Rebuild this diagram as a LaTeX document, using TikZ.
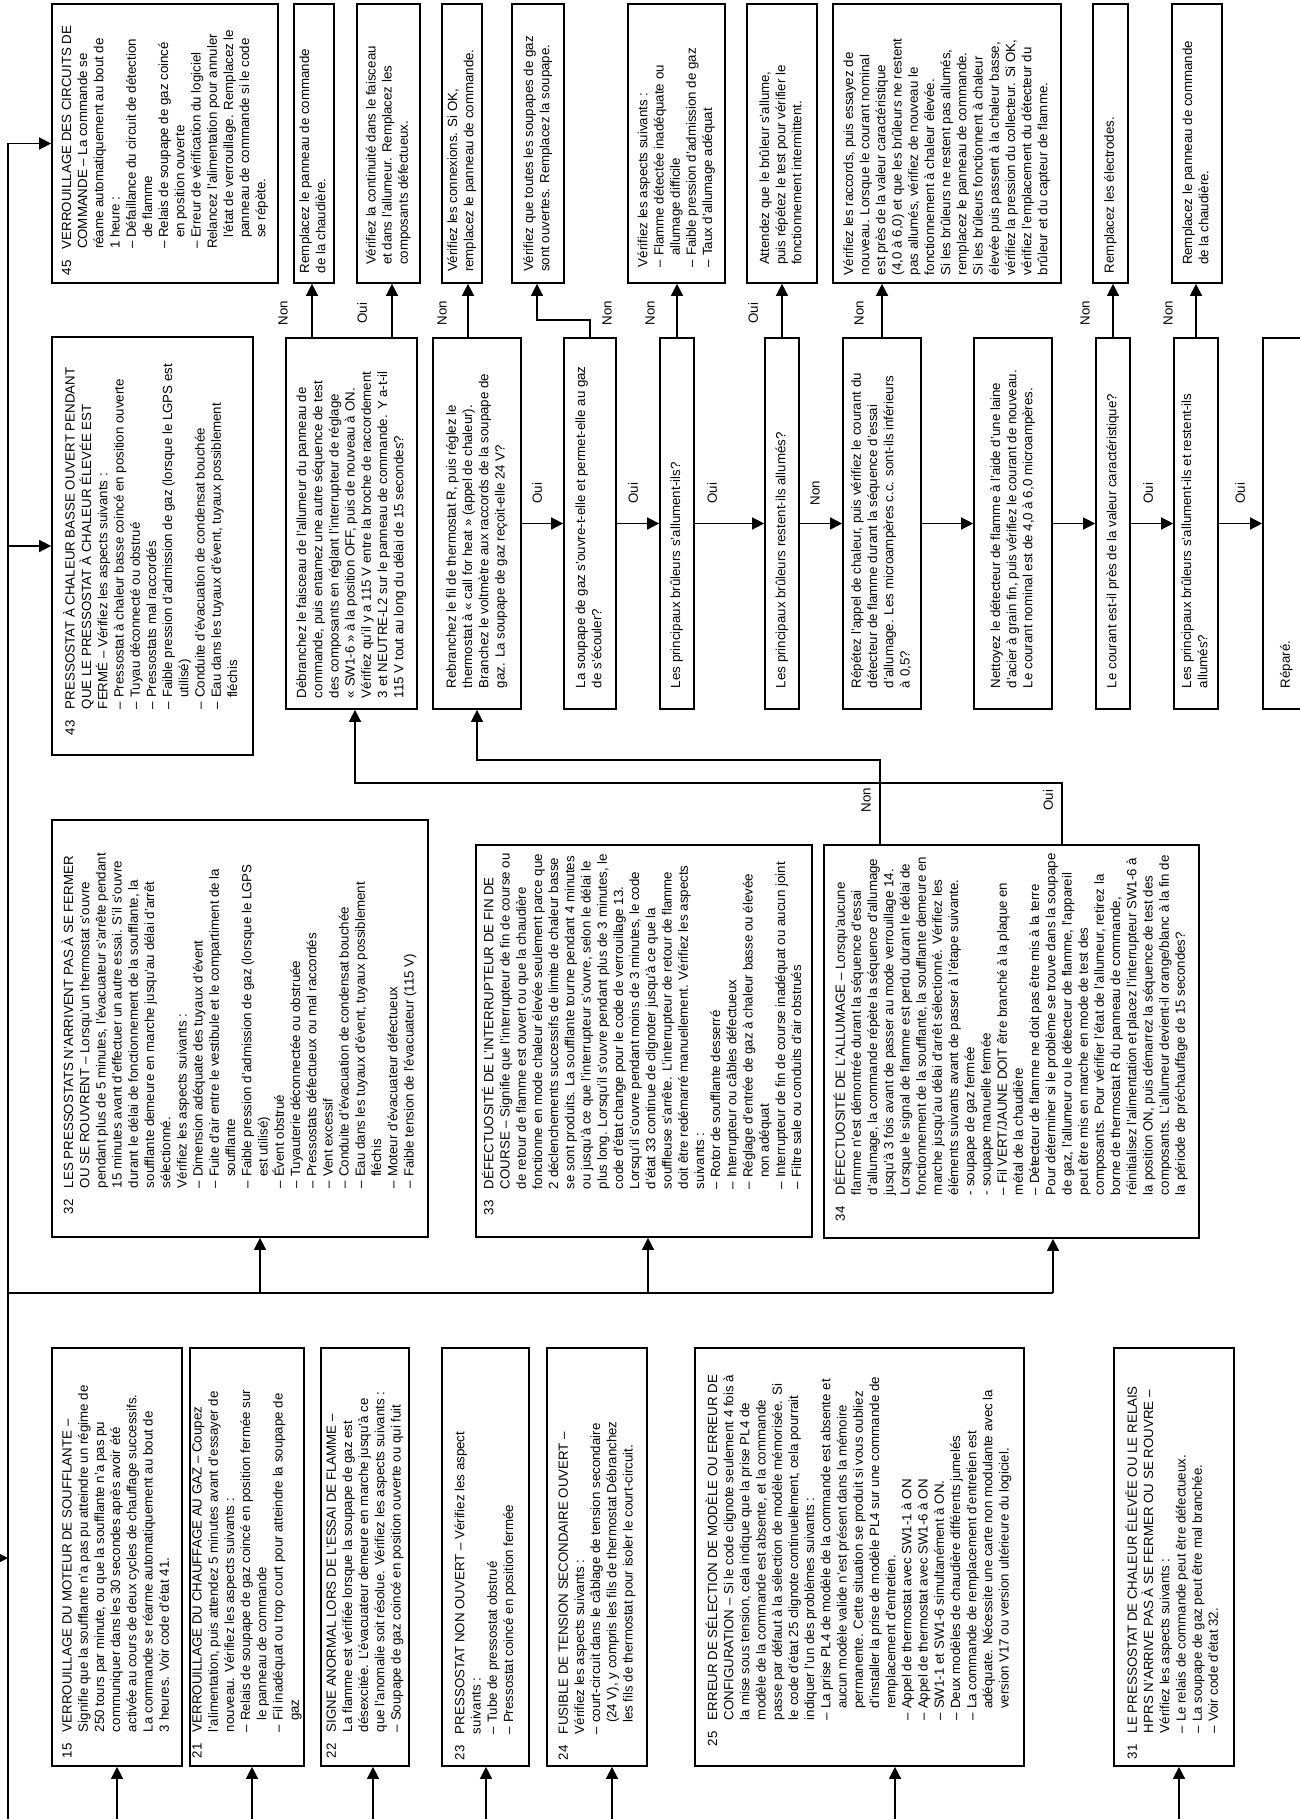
\documentclass[tikz,border=0pt]{standalone}
\usepackage{fontspec}
\setmainfont{Liberation Sans}
\usetikzlibrary{arrows.meta,calc}
\newlength\numw \setlength\numw{26pt}
\newcommand\nm[1]{\makebox[\numw][l]{#1}}
\newcommand\ii{\hspace*{\numw}}
\newcommand\dd{\hspace*{\numw}\phantom{– }}
\newcommand\dc{\phantom{– }}
\newcommand\bt[2]{\makebox[#1][l]{\begin{tabular}{@{}l@{}}#2\end{tabular}}}
\newcommand\fs{\fontsize{13.3}{16.2}\selectfont}
\tikzset{
  bx/.style={draw, line width=1.7pt, rotate=90, inner ysep=0pt, font=\fs},
  ln/.style={line width=1.5pt},
  arr/.style={ln, -{Triangle[length=12pt,width=12pt]}},
  lbl/.style={rotate=90, font=\fs, inner sep=0pt}
}
\begin{document}
\begin{tikzpicture}[x=1pt,y=-1pt]
\fill[white] (0,0) rectangle (1299,1819);
\useasboundingbox (0,0) rectangle (1299,1819);

% ---------- top row ----------
\node[bx, inner xsep=8pt, minimum height=226pt] (b45) at (165,143.5) {\bt{263pt}{%
\nm{45}VERROUILLAGE DES CIRCUITS DE\\
\ii COMMANDE – La commande se\\
\ii réame automatiquement au bout de\\
\ii 1 heure :\\
\ii – Défaillance du circuit de détection\\
\dd de flamme\\
\ii – Relais de soupape de gaz coincé\\
\dd en position ouverte\\
\ii – Erreur de vérification du logiciel\\
\ii Relancez l'alimentation pour annuler\\
\dd l'état de verrouillage. Remplacez le\\
\dd panneau de commande si le code\\
\dd se répète.}};
\node[bx, inner xsep=10pt, minimum height=40pt] (r1) at (314,143.5) {\bt{259pt}{%
Remplacez le panneau de commande\\ de la chaudière.}};
\node[bx, inner xsep=18pt, minimum height=63pt] (r2) at (388.5,143.5) {\bt{243pt}{%
Vérifiez la continuité dans le faisceau\\ et dans l'allumeur. Remplacez les\\ composants défectueux.}};
\node[bx, inner xsep=11pt, minimum height=40pt] (r3) at (462,143.5) {\bt{257pt}{%
Vérifiez les connexions. Si OK,\\ remplacez le panneau de commande.}};
\node[bx, inner xsep=11pt, minimum height=52pt] (r4) at (538,143.5) {\bt{257pt}{%
Vérifiez que toutes les soupapes de gaz\\ sont ouvertes. Remplacez la soupape.}};
\node[bx, inner xsep=16pt, minimum height=97pt] (r5) at (676.5,143.5) {\bt{247pt}{%
Vérifiez les aspects suivants :\\
– Flamme détectée inadéquate ou\\
\dc allumage difficile\\
– Faible pression d'admission de gaz\\
– Taux d'allumage adéquat}};
\node[bx, inner xsep=18pt, minimum height=70pt] (r6) at (782,143.5) {\bt{243pt}{%
Attendez que le brûleur s'allume,\\ puis répétez le test pour vérifier le\\ fonctionnement intermittent.}};
\node[bx, inner xsep=8pt, minimum height=228pt] (r7) at (947,143.5) {\bt{263pt}{%
Vérifiez les raccords, puis essayez de\\
nouveau. Lorsque le courant nominal\\
est près de la valeur caractéristique\\
(4,0 à 6,0) et que les brûleurs ne restent\\
pas allumés, vérifiez de nouveau le\\
fonctionnement à chaleur élevée.\\
Si les brûleurs ne restent pas allumés,\\
remplacez le panneau de commande.\\
Si les brûleurs fonctionnent à chaleur\\
élevée puis passent à la chaleur basse,\\
vérifiez la pression du collecteur. Si OK,\\
vérifiez l'emplacement du détecteur du\\
brûleur et du capteur de flamme.}};
\node[bx, inner xsep=10pt, minimum height=35pt] (r8) at (1110.5,143.5) {\bt{259pt}{%
Remplacez les électrodes.}};
\node[bx, inner xsep=18pt, minimum height=50pt] (r9) at (1197,143.5) {\bt{243pt}{%
Remplacez le panneau de commande\\ de la chaudière.}};

% ---------- decision row ----------
\node[bx, inner xsep=20pt, minimum height=201pt] (b43) at (152.5,546) {\bt{378pt}{%
\nm{43}PRESSOSTAT À CHALEUR BASSE OUVERT PENDANT\\
\ii QUE LE PRESSOSTAT À CHALEUR ÉLEVÉE EST\\
\ii FERMÉ – Vérifiez les aspects suivants :\\
\ii – Pressostat à chaleur basse coincé en position ouverte\\
\ii – Tuyau déconnecté ou obstrué\\
\ii – Pressostats mal raccordés\\
\ii – Faible pression d'admission de gaz (lorsque le LGPS est\\
\dd utilisé)\\
\ii – Conduite d'évacuation de condensat bouchée\\
\ii – Eau dans les tuyaux d'évent, tuyaux possiblement\\
\dd fléchis}};
\node[bx, inner xsep=11pt, minimum height=131pt] (d1) at (351.5,523.5) {\bt{349pt}{%
Débranchez le faisceau de l'allumeur du panneau de\\
commande, puis entamez une autre séquence de test\\
des composants en réglant l'interrupteur de réglage\\
« SW1-6 » à la position OFF, puis de nouveau à ON.\\
Vérifiez qu'il y a 115 V entre la broche de raccordement\\
3 et NEUTRE-L2 sur le panneau de commande. Y a-t-il\\
115 V tout au long du délai de 15 secondes?}};
\node[bx, inner xsep=21pt, minimum height=88pt] (d2) at (477,523.5) {\bt{329pt}{%
Rebranchez le fil de thermostat R, puis réglez le\\
thermostat à « call for heat » (appel de chaleur).\\
Branchez le voltmètre aux raccords de la soupape de\\
gaz. La soupape de gaz reçoit-elle 24 V?}};
\node[bx, inner xsep=21pt, minimum height=52pt] (d3) at (590,523.5) {\bt{329pt}{%
La soupape de gaz s'ouvre-t-elle et permet-elle au gaz\\ de s'écouler?}};
\node[bx, inner xsep=21pt, minimum height=34pt] (d4) at (677,523.5) {\bt{329pt}{%
Les principaux brûleurs s'allument-ils?}};
\node[bx, inner xsep=21pt, minimum height=34pt] (d5) at (782,523.5) {\bt{329pt}{%
Les principaux brûleurs restent-ils allumés?}};
\node[bx, inner xsep=21pt, minimum height=78pt] (d6) at (882,523.5) {\bt{329pt}{%
Répétez l'appel de chaleur, puis vérifiez le courant du\\
détecteur de flamme durant la séquence d'essai\\
d'allumage. Les microampères c.c. sont-ils inférieurs\\
à 0,5?}};
\node[bx, inner xsep=21pt, minimum height=78pt] (d7) at (1013,523.5) {\bt{329pt}{%
Nettoyez le détecteur de flamme à l'aide d'une laine\\
d'acier à grain fin, puis vérifiez le courant de nouveau.\\
Le courant nominal est de 4,0 à 6,0 microampères.}};
\node[bx, inner xsep=21pt, minimum height=34pt] (d8) at (1113,523.5) {\bt{329pt}{%
Le courant est-il près de la valeur caractéristique?}};
\node[bx, inner xsep=21pt, minimum height=44pt] (d9) at (1196,523.5) {\bt{329pt}{%
Les principaux brûleurs s'allument-ils et restent-ils\\ allumés?}};
\node[bx, inner xsep=21pt, minimum height=47pt] (d10) at (1286.5,523.5) {\bt{329pt}{%
Réparé.}};

% ---------- middle row ----------
\node[bx, inner xsep=23pt, minimum height=376pt] (b32) at (240,1028.5) {\bt{371pt}{%
\nm{32}LES PRESSOSTATS N'ARRIVENT PAS À SE FERMER\\
\ii OU SE ROUVRENT – Lorsqu'un thermostat s'ouvre\\
\ii pendant plus de 5 minutes, l'évacuateur s'arrête pendant\\
\ii 15 minutes avant d'effectuer un autre essai. S'il s'ouvre\\
\ii durant le délai de fonctionnement de la soufflante, la\\
\ii soufflante demeure en marche jusqu'au délai d'arrêt\\
\ii sélectionné.\\
\ii Vérifiez les aspects suivants :\\
\ii – Dimension adéquate des tuyaux d'évent\\
\ii – Fuite d'air entre le vestibule et le compartiment de la\\
\dd soufflante\\
\ii – Faible pression d'admission de gaz (lorsque le LGPS\\
\dd est utilisé)\\
\ii – Évent obstrué\\
\ii – Tuyauterie déconnectée ou obstruée\\
\ii – Pressostats défectueux ou mal raccordés\\
\ii – Vent excessif\\
\ii – Conduite d'évacuation de condensat bouchée\\
\ii – Eau dans les tuyaux d'évent, tuyaux possiblement\\
\dd fléchis\\
\ii – Moteur d'évacuateur défectueux\\
\ii – Faible tension de l'évacuateur (115 V)}};
\node[bx, inner xsep=22pt, minimum height=336pt] (b33) at (644,1041) {\bt{348pt}{%
\nm{33}DÉFECTUOSITÉ DE L'INTERRUPTEUR DE FIN DE\\
\ii COURSE – Signifie que l'interrupteur de fin de course ou\\
\ii de retour de flamme est ouvert ou que la chaudière\\
\ii fonctionne en mode chaleur élevée seulement parce que\\
\ii 2 déclenchements successifs de limite de chaleur basse\\
\ii se sont produits. La soufflante tourne pendant 4 minutes\\
\ii ou jusqu'à ce que l'interrupteur s'ouvre, selon le délai le\\
\ii plus long. Lorsqu'il s'ouvre pendant plus de 3 minutes, le\\
\ii code d'état change pour le code de verrouillage 13.\\
\ii Lorsqu'il s'ouvre pendant moins de 3 minutes, le code\\
\ii d'état 33 continue de clignoter jusqu'à ce que la\\
\ii souffleuse s'arrête. L'interrupteur de retour de flamme\\
\ii doit être redémarré manuellement. Vérifiez les aspects\\
\ii suivants :\\
\ii – Rotor de soufflante desserré\\
\ii – Interrupteur ou câbles défectueux\\
\ii – Réglage d'entrée de gaz à chaleur basse ou élevée\\
\dd non adéquat\\
\ii – Interrupteur de fin de course inadéquat ou aucun joint\\
\ii – Filtre sale ou conduits d'air obstrués}};
\node[bx, inner xsep=17pt, minimum height=375pt] (b34) at (1011.5,1041.5) {\bt{359pt}{%
\nm{34}DÉFECTUOSITÉ DE L'ALLUMAGE – Lorsqu'aucune\\
\ii flamme n'est démontrée durant la séquence d'essai\\
\ii d'allumage, la commande répète la séquence d'allumage\\
\ii jusqu'à 3 fois avant de passer au mode verrouillage 14.\\
\ii Lorsque le signal de flamme est perdu durant le délai de\\
\ii fonctionnement de la soufflante, la soufflante demeure en\\
\ii marche jusqu'au délai d'arrêt sélectionné. Vérifiez les\\
\ii éléments suivants avant de passer à l'étape suivante.\\
\ii - soupape de gaz fermée\\
\ii - soupape manuelle fermée\\
\ii – Fil VERT/JAUNE DOIT être branché à la plaque en\\
\ii métal de la chaudière\\
\ii – Détecteur de flamme ne doit pas être mis à la terre\\
\ii Pour déterminer si le problème se trouve dans la soupape\\
\ii de gaz, l'allumeur ou le détecteur de flamme, l'appareil\\
\ii peut être mis en marche en mode de test des\\
\ii composants. Pour vérifier l'état de l'allumeur, retirez la\\
\ii borne de thermostat R du panneau de commande,\\
\ii réinitialisez l'alimentation et placez l'interrupteur SW1-6 à\\
\ii la position ON, puis démarrez la séquence de test des\\
\ii composants. L'allumeur devient-il orange/blanc à la fin de\\
\ii la période de préchauffage de 15 secondes?}};

% ---------- bottom row ----------
\node[bx, inner xsep=8pt, minimum height=130pt] (b15) at (117,1557) {\bt{402pt}{%
\nm{15}VERROUILLAGE DU MOTEUR DE SOUFFLANTE –\\
\ii Signifie que la soufflante n'a pas pu atteindre un régime de\\
\ii 250 tours par minute, ou que la soufflante n'a pas pu\\
\ii communiquer dans les 30 secondes après avoir été\\
\ii activée au cours de deux cycles de chauffage successifs.\\
\ii La commande se réarme automatiquement au bout de\\
\ii 3 heures. Voir code d'état 41.}};
\node[bx, inner xsep=8pt, minimum height=114pt] (b21) at (247,1557) {\bt{402pt}{%
\nm{21}VERROUILLAGE DU CHAUFFAGE AU GAZ – Coupez\\
\ii l'alimentation, puis attendez 5 minutes avant d'essayer de\\
\ii nouveau. Vérifiez les aspects suivants :\\
\ii – Relais de soupape de gaz coincé en position fermée sur\\
\dd le panneau de commande\\
\ii – Fil inadéquat ou trop court pour atteindre la soupape de\\
\dd gaz}};
\node[bx, inner xsep=8pt, minimum height=88pt] (b22) at (365,1557) {\bt{402pt}{%
\nm{22}SIGNE ANORMAL LORS DE L'ESSAI DE FLAMME –\\
\ii La flamme est vérifiée lorsque la soupape de gaz est\\
\ii désexcitée. L'évacuateur demeure en marche jusqu'à ce\\
\ii que l'anomalie soit résolue. Vérifiez les aspects suivants :\\
\ii – Soupape de gaz coincé en position ouverte ou qui fuit}};
\node[bx, inner xsep=6pt, minimum height=87pt] (b23) at (485.5,1557) {\bt{406pt}{%
\nm{23}PRESSOSTAT NON OUVERT – Vérifiez les aspect\\
\ii suivants :\\
\ii – Tube de pressostat obstrué\\
\ii – Pressostat coincé en position fermée}};
\node[bx, inner xsep=6pt, minimum height=100pt] (b24) at (597,1557) {\bt{406pt}{%
\nm{24}FUSIBLE DE TENSION SECONDAIRE OUVERT –\\
\ii Vérifiez les aspects suivants :\\
\ii – court-circuit dans le câblage de tension secondaire\\
\dd (24 V), y compris les fils de thermostat Débranchez\\
\dd les fils de thermostat pour isoler le court-circuit.}};
\node[bx, inner xsep=20pt, minimum height=329pt] (b25) at (859.5,1557) {\bt{378pt}{%
\nm{25}ERREUR DE SÉLECTION DE MODÈLE OU ERREUR DE\\
\ii CONFIGURATION – Si le code clignote seulement 4 fois à\\
\ii la mise sous tension, cela indique que la prise PL4 de\\
\ii modèle de la commande est absente, et la commande\\
\ii passe par défaut à la sélection de modèle mémorisée. Si\\
\ii le code d'état 25 clignote continuellement, cela pourrait\\
\ii indiquer l'un des problèmes suivants :\\
\ii – La prise PL4 de modèle de la commande est absente et\\
\dd aucun modèle valide n'est présent dans la mémoire\\
\dd permanente. Cette situation se produit si vous oubliez\\
\dd d'installer la prise de modèle PL4 sur une commande de\\
\dd remplacement d'entretien.\\
\ii – Appel de thermostat avec SW1-1 à ON\\
\ii – Appel de thermostat avec SW1-6 à ON\\
\ii – SW1-1 et SW1-6 simultanément à ON.\\
\ii – Deux modèles de chaudière différents jumelés\\
\ii – La commande de remplacement d'entretien est\\
\dd adéquate. Nécessite une carte non modulante avec la\\
\dd version V17 ou version ultérieure du logiciel.}};
\node[bx, inner xsep=7pt, minimum height=120pt] (b31) at (1174,1557) {\bt{404pt}{%
\nm{31}LE PRESSOSTAT DE CHALEUR ÉLEVÉE OU LE RELAIS\\
\ii HPRS N'ARRIVE PAS À SE FERMER OU SE ROUVRE –\\
\ii Vérifiez les aspects suivants :\\
\ii – Le relais de commande peut être défectueux.\\
\ii – La soupape de gaz peut être mal branchée.\\
\ii – Voir code d'état 32.}};

% ---------- connectors ----------
\coordinate (m0) at (8,1840);
\draw[arr] (m0) |- (b45.north);
\coordinate (j43) at (b43.north -| m0);
\draw[arr] (j43) -- (b43.north);
\coordinate (jm) at (8,1293);
\coordinate (jr) at (1053,1293);
\draw[ln] (jm) -- (jr);
\draw[arr] (jr) -- (jr |- b34.west);
\coordinate (j32) at (260,1293);
\draw[arr] (j32) -- (j32 |- b32.west);
\coordinate (j33) at (648,1293);
\draw[arr] (j33) -- (j33 |- b33.west);
\coordinate (ae) at (-20,1558);
\draw[arr] (ae) -- (ae -| m0);

% bottom inputs
\coordinate (s15) at (117,1840);
\coordinate (s21) at (252,1840);
\coordinate (s22) at (373,1840);
\coordinate (s23) at (486,1840);
\coordinate (s24) at (612,1840);
\coordinate (s25) at (895,1840);
\coordinate (s31) at (1179,1840);
\draw[arr] (s15) -- (s15 |- b15.west);
\draw[arr] (s21) -- (s21 |- b21.west);
\draw[arr] (s22) -- (s22 |- b22.west);
\draw[arr] (s23) -- (s23 |- b23.west);
\draw[arr] (s24) -- (s24 |- b24.west);
\draw[arr] (s25) -- (s25 |- b25.west);
\draw[arr] (s31) -- (s31 |- b31.west);

% box 34 outputs
\coordinate (n1) at (880,760);
\coordinate (n2) at (477,760);
\draw[arr] (b34.east -| n1) -- (n1) -- (n2) -- (d2.west);
\coordinate (o1) at (1062,783);
\coordinate (o2) at (355,783);
\draw[arr] (b34.east -| o1) -- (o1) -- (o2) -- (o2 |- d1.west);
\node[lbl] (l34n) at (866,800) {Non};
\node[lbl] (l34o) at (1048,800) {Oui};

% decision chain
\draw[arr] (d2.south) -- (d3.north);
\draw[arr] (d3.south) -- (d4.north);
\draw[arr] (d4.south) -- (d5.north);
\draw[arr] (d5.south) -- (d6.north);
\draw[arr] (d6.south) -- (d7.north);
\draw[arr] (d7.south) -- (d8.north);
\draw[arr] (d8.south) -- (d9.north);
\draw[arr] (d9.south) -- (d10.north);
\node[lbl] at (537,493) {Oui};
\node[lbl] at (633,493) {Oui};
\node[lbl] at (712,493) {Oui};
\node[lbl] at (815,493) {Non};
\node[lbl] at (1148,493) {Oui};
\node[lbl] at (1240,493) {Oui};

% up connectors
\coordinate (c1) at (312,0);
\coordinate (c2) at (392,0);
\coordinate (c3) at (468,0);
\draw[arr] (d1.east -| c1) -- (r1.west -| c1);
\draw[arr] (d1.east -| c2) -- (r2.west -| c2);
\draw[arr] (d2.east -| c3) -- (r3.west -| c3);
\coordinate (k1) at (590,320);
\coordinate (k2) at (537,320);
\draw[arr] (d3.east -| k1) -- (k1) -- (k2) -- (k2 |- r4.west);
\draw[arr] (d4.east) -- (d4.east |- r5.west);
\draw[arr] (d5.east) -- (d5.east |- r6.west);
\draw[arr] (d6.east) -- (d6.east |- r7.west);
\draw[arr] (d8.east) -- (d8.east |- r8.west);
\draw[arr] (d9.east) -- (d9.east |- r9.west);
\node[lbl] at (283,313) {Non};
\node[lbl] at (362,313) {Oui};
\node[lbl] at (442,313) {Non};
\node[lbl] at (607,313) {Non};
\node[lbl] at (650,313) {Non};
\node[lbl] at (753,313) {Oui};
\node[lbl] at (859,313) {Non};
\node[lbl] at (1085,313) {Non};
\node[lbl] at (1168,313) {Non};
\end{tikzpicture}
\end{document}
